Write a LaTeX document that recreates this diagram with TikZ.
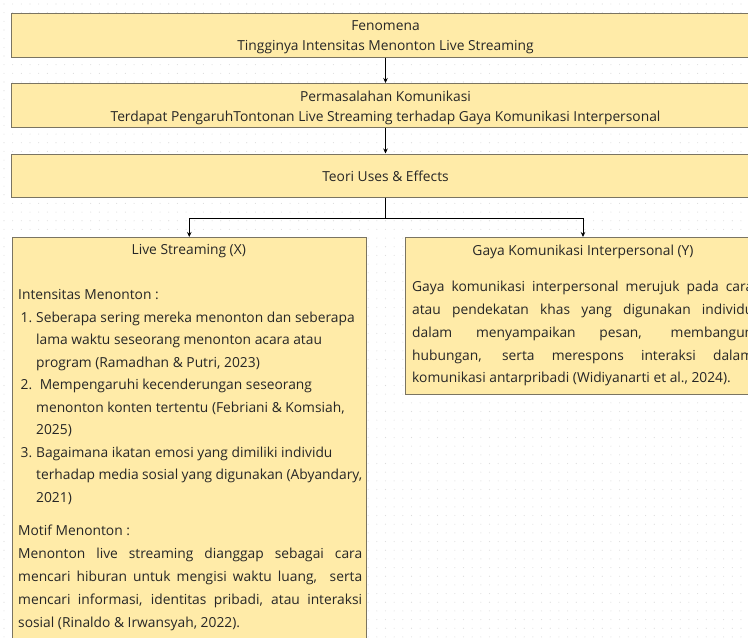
\documentclass[tikz,border=0pt]{standalone}
\usepackage{fontspec}
\setmainfont{Open Sans}
\usetikzlibrary{positioning, arrows.meta}

\definecolor{boxfill}{HTML}{FFEBA8}
\definecolor{boxline}{HTML}{7A7462}
\definecolor{dotgray}{HTML}{DCDCDC}
\definecolor{tinta}{HTML}{262626}

\newcommand{\butir}[2]{\hspace*{2.5pt}\makebox[15.5pt][l]{#1}#2}
\newcommand{\lanjut}{\hspace*{18pt}}

\begin{document}
\begin{tikzpicture}[
    x=1pt, y=-1pt,
    kotak/.style={rectangle, draw=boxline, fill=boxfill, line width=1pt, inner sep=0pt},
    judul/.style={kotak, minimum width=749pt, minimum height=44pt},
    teksjudul/.style={inner sep=0pt, align=center, text=tinta,
        font=\fontsize{13.8}{20}\selectfont},
    isi/.style={inner sep=0pt, text width=#1, align=justify, text=tinta,
        font=\fontsize{13.8}{22.5}\selectfont},
    panah/.style={-{Stealth[length=5pt, width=4.5pt]}, line width=0.8pt}]

    \useasboundingbox (0,0) rectangle (748,638);
    \clip (0,0) rectangle (748,638);

    % dot grid in the background
    \foreach \i in {0,...,86}
        \foreach \j in {0,...,73}
            \fill[dotgray] (4+\i*8.67, 4+\j*8.67) circle[radius=0.55pt];

    \node[judul] (fenomena) at (385.5, 35) {};
    \node[judul] (masalah) at (385.5, 105.5) {};
    \node[judul, minimum height=43pt] (teori) at (385.5, 175.5) {};
    \node[teksjudul, yshift=-2.5pt] (fenomenateks) at (fenomena) {Fenomena\\ Tingginya Intensitas Menonton Live Streaming};
    \node[teksjudul, yshift=-2.5pt] (masalahteks) at (masalah) {Permasalahan Komunikasi\\ Terdapat PengaruhTontonan Live Streaming terhadap Gaya Komunikasi Interpersonal};
    \node[teksjudul, yshift=-1pt] (teoriteks) at (teori) {Teori Uses \& Effects};

    \node[kotak, minimum width=354.5pt, minimum height=420pt, anchor=north west] (livestream) at (11.5, 237) {};
    \node[kotak, minimum width=355pt, minimum height=157pt, anchor=north west] (gaya) at (405, 237) {};

    \coordinate (cabang) at (385.5, 218);
    \draw[panah] (fenomena) -- (masalah);
    \draw[panah] (masalah) -- (teori);
    \draw[panah] (teori.south) -- (teori.south |- cabang) -| (livestream.north);
    \draw[panah] (teori.south) -- (teori.south |- cabang) -| (gaya.north);

    % variabel X
    \node[teksjudul] (judulx) at (188.75, 251) {Live Streaming (X)};
    \node[isi=344pt, anchor=north west] (isix) at (18, 284) {\strut Intensitas Menonton :\\
        \butir{1.}{Seberapa sering mereka menonton dan seberapa}\\
        \lanjut lama waktu seseorang menonton acara atau\\
        \lanjut program (Ramadhan \& Putri, 2023)\\
        \butir{2.}{\ Mempengaruhi kecenderungan seseorang}\\
        \lanjut menonton konten tertentu (Febriani \& Komsiah,\\
        \lanjut 2025)\\
        \butir{3.}{Bagaimana ikatan emosi yang dimiliki individu}\\
        \lanjut terhadap media sosial yang digunakan (Abyandary,\\
        \lanjut 2021)};
    \node[isi=344pt, anchor=north west, font=\fontsize{13.8}{23}\selectfont] (motifx) at (18, 519.6) {\strut Motif Menonton :\\
        Menonton live streaming dianggap sebagai cara\linebreak
        mencari hiburan untuk mengisi waktu luang,~ serta\linebreak
        mencari informasi, identitas pribadi, atau interaksi\linebreak
        sosial (Rinaldo \& Irwansyah, 2022).};

    % variabel Y
    \node[teksjudul] (juduly) at (583, 252) {Gaya Komunikasi Interpersonal (Y)};
    \node[isi=341pt, anchor=north west, font=\fontsize{13.8}{22.75}\selectfont] (isiy) at (412, 275.8) {\strut Gaya komunikasi interpersonal merujuk pada cara\linebreak
        atau pendekatan khas yang digunakan individu\linebreak
        dalam menyampaikan pesan, membangun\linebreak
        hubungan, serta merespons interaksi dalam\linebreak
        komunikasi antarpribadi (Widiyanarti et al., 2024).};

\end{tikzpicture}
\end{document}
